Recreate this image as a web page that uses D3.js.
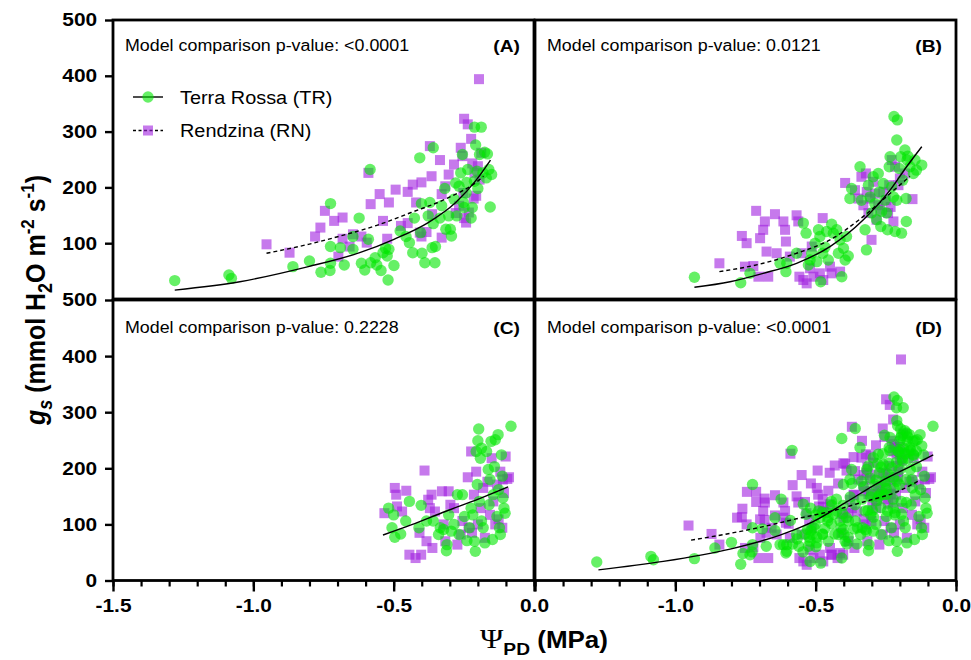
<!DOCTYPE html>
<html><head><meta charset="utf-8">
<script src="https://cdn.jsdelivr.net/npm/d3@7"></script>
<style>body{margin:0;background:#fff} svg{display:block}</style>
</head><body>
<svg id="chart" width="971" height="660"></svg>
<script>
// ---------------- DATA ----------------
const seriesNames = ["Terra Rossa (TR)", "Rendzina (RN)"];
const panelLabels = ["(A)", "(B)", "(C)", "(D)"];
const pValues = ["<0.0001", "0.0121", "0.2228", "<0.0001"];
const yTickValues = [0, 100, 200, 300, 400, 500];
const xTickValues = [-1.5, -1.0, -0.5, 0.0];
const xTickLabels = ["-1.5", "-1.0", "-0.5", "0.0"];

// Panel A: Terra Rossa (circles)
const trA = [[-1.28,33],[-1.087,43],[-1.078,37],[-0.859,58],[-0.80,68],[-0.759,48],[-0.727,51],[-0.725,171],[-0.725,64],[-0.725,94],
[-0.69,92],[-0.676,61],[-0.645,89],[-0.645,112],[-0.623,145],[-0.615,64],[-0.603,52],[-0.59,107],[-0.584,232],[-0.582,65],
[-0.566,74],[-0.56,61],[-0.545,51],[-0.538,83],[-0.529,91],[-0.523,77],[-0.52,34],[-0.517,89],[-0.499,60],[-0.477,122],
[-0.456,112],[-0.444,101],[-0.432,83],[-0.426,145],[-0.407,253],[-0.404,119],[-0.401,171],[-0.399,82],[-0.389,65],[-0.377,149],
[-0.371,173],[-0.363,92],[-0.359,135],[-0.359,271],[-0.353,65],[-0.351,94],[-0.335,145],[-0.329,167],[-0.318,198],[-0.314,125],
[-0.304,149],[-0.298,125],[-0.294,113],[-0.285,179],[-0.279,208],[-0.275,149],[-0.267,202],[-0.261,226],[-0.255,259],[-0.252,173],
[-0.249,164],[-0.242,190],[-0.24,209],[-0.236,232],[-0.224,145],[-0.22,164],[-0.212,308],[-0.212,211],[-0.208,276],[-0.203,229],
[-0.2,198],[-0.194,259],[-0.188,308],[-0.182,226],[-0.176,263],[-0.17,217],[-0.166,260],[-0.161,232],[-0.156,165],[-0.151,223]];
// Panel A: Rendzina (squares)
const rnA = [[-0.953,98],[-0.871,83],[-0.78,112],[-0.761,128],[-0.745,158],[-0.712,140],[-0.697,76],[-0.682,146],[-0.682,108],[-0.657,94],
[-0.645,116],[-0.615,112],[-0.596,101],[-0.59,226],[-0.582,170],[-0.55,188],[-0.538,140],[-0.523,108],[-0.517,173],[-0.493,196],
[-0.474,131],[-0.45,136],[-0.45,192],[-0.432,205],[-0.42,173],[-0.407,119],[-0.401,209],[-0.401,112],[-0.383,120],[-0.371,274],
[-0.365,220],[-0.363,152],[-0.335,249],[-0.329,110],[-0.329,188],[-0.316,202],[-0.304,223],[-0.285,241],[-0.279,154],[-0.267,167],
[-0.261,271],[-0.255,256],[-0.252,190],[-0.249,323],[-0.249,145],[-0.242,137],[-0.236,313],[-0.232,155],[-0.224,287],[-0.22,243],
[-0.215,180],[-0.212,226],[-0.206,185],[-0.2,238],[-0.196,394],[-0.194,214],[-0.188,262]];
// Panel B
const trB = [[-0.932,39],[-0.767,29],[-0.734,46],[-0.627,64],[-0.606,49],[-0.603,64],[-0.568,82],[-0.544,136],[-0.534,118],[-0.526,61],
[-0.52,70],[-0.514,82],[-0.502,100],[-0.496,67],[-0.49,124],[-0.485,112],[-0.482,31],[-0.475,82],[-0.467,93],[-0.461,121],
[-0.455,70],[-0.443,134],[-0.437,118],[-0.425,124],[-0.419,82],[-0.413,106],[-0.407,40],[-0.401,91],[-0.395,70],[-0.39,112],
[-0.384,77],[-0.378,180],[-0.372,198],[-0.342,237],[-0.337,177],[-0.324,124],[-0.319,88],[-0.312,204],[-0.306,183],[-0.301,154],
[-0.295,219],[-0.289,171],[-0.283,142],[-0.277,225],[-0.273,192],[-0.268,130],[-0.265,157],[-0.259,207],[-0.253,177],[-0.247,154],
[-0.244,124],[-0.238,237],[-0.235,255],[-0.229,201],[-0.223,183],[-0.221,327],[-0.217,121],[-0.211,177],[-0.209,321],[-0.211,285],
[-0.202,234],[-0.197,255],[-0.194,118],[-0.19,213],[-0.182,267],[-0.178,180],[-0.177,139],[-0.174,249],[-0.172,256],[-0.164,237],
[-0.152,225],[-0.146,249],[-0.141,231],[-0.122,240]];
const rnB = [[-0.843,64],[-0.763,113],[-0.746,100],[-0.752,58],[-0.722,59],[-0.712,158],[-0.704,40],[-0.698,109],[-0.687,124],[-0.681,139],
[-0.675,85],[-0.669,40],[-0.645,152],[-0.639,82],[-0.615,139],[-0.609,124],[-0.606,103],[-0.592,76],[-0.568,150],[-0.562,139],
[-0.558,40],[-0.55,82],[-0.544,34],[-0.532,28],[-0.52,55],[-0.514,94],[-0.508,40],[-0.485,46],[-0.475,145],[-0.473,34],
[-0.449,58],[-0.443,46],[-0.413,49],[-0.395,208],[-0.36,195],[-0.348,180],[-0.337,219],[-0.33,168],[-0.321,225],[-0.318,192],
[-0.312,154],[-0.306,180],[-0.301,106],[-0.295,210],[-0.289,189],[-0.283,142],[-0.277,168],[-0.271,160],[-0.259,192],[-0.25,177],
[-0.242,154],[-0.238,204],[-0.233,165],[-0.229,249],[-0.223,139],[-0.217,237],[-0.205,204],[-0.2,216],[-0.182,225],[-0.155,179]];
// Panel C
const trC = [[-0.518,129],[-0.506,94],[-0.5,117],[-0.496,77],[-0.475,83],[-0.457,106],[-0.444,141],[-0.402,134],[-0.41,94],[-0.383,106],
[-0.359,106],[-0.34,82],[-0.334,94],[-0.322,91],[-0.312,53],[-0.31,64],[-0.304,117],[-0.295,88],[-0.285,100],[-0.273,153],
[-0.267,82],[-0.255,153],[-0.248,114],[-0.239,71],[-0.23,94],[-0.224,129],[-0.218,117],[-0.212,70],[-0.209,52],[-0.206,230],
[-0.202,171],[-0.2,249],[-0.197,270],[-0.195,141],[-0.191,218],[-0.187,106],[-0.187,236],[-0.181,94],[-0.175,67],[-0.169,230],
[-0.163,198],[-0.16,135],[-0.157,180],[-0.153,248],[-0.148,73],[-0.145,153],[-0.141,203],[-0.138,251],[-0.132,114],[-0.128,260],
[-0.126,162],[-0.123,94],[-0.12,82],[-0.116,224],[-0.113,186],[-0.111,147],[-0.107,129],[-0.103,120],[-0.082,275]];
const rnC = [[-0.533,120],[-0.496,165],[-0.491,153],[-0.488,132],[-0.455,160],[-0.47,123],[-0.444,46],[-0.422,40],[-0.402,46],[-0.408,85],
[-0.39,196],[-0.383,70],[-0.377,144],[-0.371,129],[-0.365,153],[-0.362,58],[-0.353,123],[-0.328,159],[-0.322,100],[-0.316,70],
[-0.304,159],[-0.298,135],[-0.285,129],[-0.273,64],[-0.261,82],[-0.255,106],[-0.236,184],[-0.233,94],[-0.224,230],[-0.221,85],
[-0.214,153],[-0.206,194],[-0.2,100],[-0.19,129],[-0.181,165],[-0.175,76],[-0.166,176],[-0.157,117],[-0.151,218],[-0.145,141],
[-0.138,100],[-0.132,171],[-0.126,109],[-0.12,194],[-0.113,94],[-0.111,180],[-0.107,156],[-0.101,221],[-0.095,181],[-0.089,184]];

// Fitted curves
const fitTR_A = [[-1.28,16],[-1.048,31],[-0.804,58],[-0.621,83],[-0.499,107],[-0.377,137],[-0.279,173],[-0.206,213],[-0.155,249]];
const fitRN_A = [[-0.953,82],[-0.804,98],[-0.682,114],[-0.56,132],[-0.438,155],[-0.316,179],[-0.194,214],[-0.18,220]];
const fitTR_B = [[-0.932,21],[-0.805,31],[-0.687,46],[-0.568,64],[-0.449,94],[-0.33,142],[-0.235,195],[-0.176,237],[-0.122,273]];
const fitRN_B = [[-0.843,49],[-0.687,64],[-0.568,82],[-0.449,106],[-0.33,148],[-0.235,189],[-0.164,220]];
const fitTR_C = [[-0.538,81],[-0.438,99],[-0.316,123],[-0.194,146],[-0.092,167]];
const fitTR_D = [[-1.274,19],[-1.043,34],[-0.805,56],[-0.627,81],[-0.509,105],[-0.39,140],[-0.271,176],[-0.176,200],[-0.081,224]];
const fitRN_D = [[-0.944,72],[-0.805,84],[-0.687,96],[-0.568,110],[-0.449,123],[-0.33,140],[-0.211,158],[-0.128,179]];

// ---------------- LAYOUT / STYLE ----------------
const SX = 1.13;               // horizontal stretch of the original figure's text
const FONT = "Arial, 'Liberation Sans', sans-serif";
const GREEN = "#00e600", PURPLE = "#a020e0";
const cols = [[113, 534], [535, 956]];
const rows = [[20, 299], [300, 580.5]];

const svg = d3.select("#chart");
svg.append("rect").attr("width", 971).attr("height", 660).attr("fill", "#fff");

function stretchedText(parent, x, y, str, o) {
  const g = parent.append("g").attr("transform", `translate(${x},${y}) scale(${SX},1)`);
  return g.append("text").text(str)
    .attr("font-family", FONT)
    .attr("font-size", o.size)
    .attr("font-weight", o.weight || "normal")
    .attr("text-anchor", o.anchor || "start")
    .attr("fill", "#000");
}

const panels = [
  {tr: trA, rn: rnA, fits: [[fitTR_A, false], [fitRN_A, true]], c: 0, r: 0},
  {tr: trB, rn: rnB, fits: [[fitTR_B, false], [fitRN_B, true]], c: 1, r: 0},
  {tr: trC, rn: rnC, fits: [[fitTR_C, false]], c: 0, r: 1},
  {tr: trA.concat(trB, trC), rn: rnA.concat(rnB, rnC), fits: [[fitTR_D, false], [fitRN_D, true]], c: 1, r: 1}
];

panels.forEach((p, i) => {
  const x = d3.scaleLinear().domain([-1.5, 0]).range(cols[p.c]);
  const y = d3.scaleLinear().domain([0, 500]).range([rows[p.r][1], rows[p.r][0]]);
  const g = svg.append("g");

  // squares (RN)
  g.append("g").selectAll("rect").data(p.rn).join("rect")
    .attr("x", d => x(d[0]) - 5).attr("y", d => y(d[1]) - 5)
    .attr("width", 10).attr("height", 10)
    .attr("fill", PURPLE).attr("fill-opacity", 0.6);
  // circles (TR)
  g.append("g").selectAll("circle").data(p.tr).join("circle")
    .attr("cx", d => x(d[0])).attr("cy", d => y(d[1])).attr("r", 5.7)
    .attr("fill", GREEN).attr("fill-opacity", 0.6);

  // fitted curves
  const line = d3.line().x(d => x(d[0])).y(d => y(d[1])).curve(d3.curveMonotoneX);
  p.fits.forEach(([pts, dashed]) => {
    g.append("path").datum(pts).attr("d", line)
      .attr("fill", "none").attr("stroke", "#000").attr("stroke-width", 1.4)
      .attr("stroke-dasharray", dashed ? "4,3" : null);
  });

  // frame
  g.append("rect")
    .attr("x", cols[p.c][0]).attr("y", rows[p.r][0])
    .attr("width", cols[p.c][1] - cols[p.c][0]).attr("height", rows[p.r][1] - rows[p.r][0])
    .attr("fill", "none").attr("stroke", "#000").attr("stroke-width", 2.8);

  // y axis (left column)
  if (p.c === 0) {
    const vals = p.r === 0 ? yTickValues.filter(v => v > 0) : yTickValues;
    const ax = g.append("g").attr("transform", `translate(${cols[0][0]},0)`)
      .call(d3.axisLeft(y).tickValues(vals).tickSize(8).tickSizeOuter(0).tickPadding(6).tickFormat(d3.format("d")));
    ax.select(".domain").remove();
    ax.selectAll(".tick line").attr("stroke-width", 2.4);
    ax.selectAll(".tick text").attr("font-family", FONT).attr("font-size", 18.5).attr("font-weight", "bold")
      .attr("transform", `scale(${SX},1)`);
  }
  // x axis (bottom row)
  if (p.r === 1) {
    const minor = d3.range(0, 16).map(k => -1.5 + k * 0.1);
    const axm = g.append("g").attr("transform", `translate(0,${rows[1][1]})`)
      .call(d3.axisBottom(x).tickValues(minor).tickSize(6).tickSizeOuter(0).tickFormat(""));
    axm.select(".domain").remove();
    axm.selectAll(".tick line").attr("stroke-width", 2.2);
    const labels = xTickLabels.map((l, k) => (p.c === 1 && k === 0) ? "" : l);
    const ax = g.append("g").attr("transform", `translate(0,${rows[1][1]})`)
      .call(d3.axisBottom(x).tickValues(xTickValues).tickSize(11).tickSizeOuter(0).tickPadding(7)
        .tickFormat((d, k) => labels[k]));
    ax.select(".domain").remove();
    ax.selectAll(".tick line").attr("stroke-width", 2.4);
    ax.selectAll(".tick text").attr("font-family", FONT).attr("font-size", 18.5).attr("font-weight", "bold")
      .attr("transform", `scale(${SX},1)`);
  }

  // annotation + panel label
  const baseY = p.r === 0 ? 51 : 333;
  stretchedText(g, cols[p.c][0] + 12, baseY, "Model comparison p-value: " + pValues[i], {size: 15.8});
  stretchedText(g, cols[p.c][1] - 14, baseY + 1, panelLabels[i], {size: 17, weight: "bold", anchor: "end"});
});

// legend (panel A)
const legend = svg.append("g");
legend.append("line").attr("x1", 133).attr("x2", 163).attr("y1", 97).attr("y2", 97).attr("stroke", "#000").attr("stroke-width", 1.4);
legend.append("circle").attr("cx", 148).attr("cy", 97).attr("r", 5.7).attr("fill", GREEN).attr("fill-opacity", 0.6);
stretchedText(legend, 180, 104, seriesNames[0], {size: 17.6});
legend.append("line").attr("x1", 133).attr("x2", 163).attr("y1", 130.5).attr("y2", 130.5).attr("stroke", "#000").attr("stroke-width", 1.4).attr("stroke-dasharray", "3,2.5");
legend.append("rect").attr("x", 143).attr("y", 125.5).attr("width", 10).attr("height", 10).attr("fill", PURPLE).attr("fill-opacity", 0.6);
stretchedText(legend, 180, 137, seriesNames[1], {size: 17.6});

// y title
const yt = svg.append("g").attr("transform", `translate(45,300) scale(${SX},1) rotate(-90)`)
  .append("text").attr("font-family", FONT).attr("font-weight", "bold").attr("font-size", 25).attr("text-anchor", "middle");
yt.append("tspan").text("g").attr("font-style", "italic");
yt.append("tspan").text("s").attr("font-style", "italic").attr("font-size", 18).attr("dy", 6);
yt.append("tspan").text(" (mmol H").attr("dy", -6);
yt.append("tspan").text("2").attr("font-size", 18).attr("dy", 6);
yt.append("tspan").text("O m").attr("dy", -6);
yt.append("tspan").text("-2").attr("font-size", 17).attr("dy", -10);
yt.append("tspan").text(" s").attr("dy", 10);
yt.append("tspan").text("-1").attr("font-size", 17).attr("dy", -10);
yt.append("tspan").text(")").attr("dy", 10);

// x title
const xt = svg.append("g").attr("transform", `translate(544,648) scale(${SX},1)`)
  .append("text").attr("font-family", FONT).attr("font-weight", "bold").attr("font-size", 23).attr("text-anchor", "middle");
xt.append("tspan").text("Ψ").attr("font-family", "'Liberation Serif', 'DejaVu Serif', serif").attr("font-weight", "normal").attr("font-size", 28);
xt.append("tspan").text("PD").attr("font-size", 17).attr("dy", 7);
xt.append("tspan").text(" (MPa)").attr("dy", -7);
</script>
</body></html>
